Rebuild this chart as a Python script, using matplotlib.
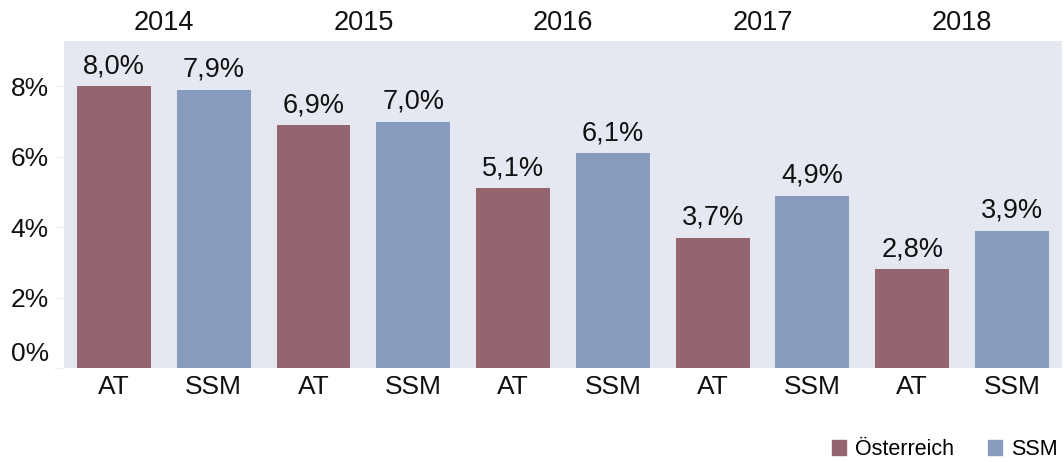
import matplotlib.pyplot as plt
from matplotlib.patches import Patch
from matplotlib.transforms import ScaledTranslation

years = ["2014", "2015", "2016", "2017", "2018"]
at_vals = [8.0, 6.9, 5.1, 3.7, 2.8]
ssm_vals = [7.9, 7.0, 6.1, 4.9, 3.9]
bar_labels = ["AT", "SSM"]
yticks = [0, 2, 4, 6, 8]

c_at = "#95656f"
c_ssm = "#879bbf"
bg = "#e6e8f1"

plt.rcParams['font.family'] = ['Liberation Sans', 'DejaVu Sans']

fig = plt.figure(figsize=(10.64, 4.62), dpi=100)
ax = fig.add_axes([0.0602, 0.2035, 0.9378, 0.7078])
ax.set_facecolor(bg)

xs, vals, cols, labs = [], [], [], []
for i in range(len(years)):
    xs += [2 * i, 2 * i + 1]
    vals += [at_vals[i], ssm_vals[i]]
    cols += [c_at, c_ssm]
    labs += bar_labels

ax.bar(xs, vals, width=0.74, color=cols)
for x, v in zip(xs, vals):
    ax.annotate(("%.1f%%" % v).replace(".", ","), (x, v), xytext=(0, 5),
                textcoords="offset points", ha="center", va="bottom",
                fontsize=19.5, color="#111111")

for i, y in enumerate(years):
    ax.text(2 * i + 0.5, 1.015, y, transform=ax.get_xaxis_transform(),
            ha="center", va="bottom", fontsize=19.5, color="#111111")

ax.set_xlim(-0.5, 9.5)
ax.set_ylim(0, 9.29)
ax.set_xticks(xs)
ax.set_xticklabels(labs, fontsize=19, color="#111111")
ax.set_yticks(yticks)
ax.set_yticklabels(["%d%%" % t for t in yticks], fontsize=19, color="#111111")
ax.tick_params(axis="x", length=0, pad=5)
ax.tick_params(axis="y", length=7, color="#eeeeee", pad=4)
for s in ax.spines.values():
    s.set_visible(False)

# lift the 0% label a bit like the original
lab0 = ax.get_yticklabels()[0]
lab0.set_transform(lab0.get_transform() + ScaledTranslation(0, 0.16, fig.dpi_scale_trans))

handles = [Patch(color=c_at, label="Österreich"), Patch(color=c_ssm, label="SSM")]
fig.legend(handles=handles, loc="lower right", bbox_to_anchor=(1.012, -0.038), ncol=2,
           frameon=False, fontsize=15.5, handlelength=0.65, handleheight=0.65,
           columnspacing=1.6, handletextpad=0.4)

fig.savefig("out.png", dpi=100)
